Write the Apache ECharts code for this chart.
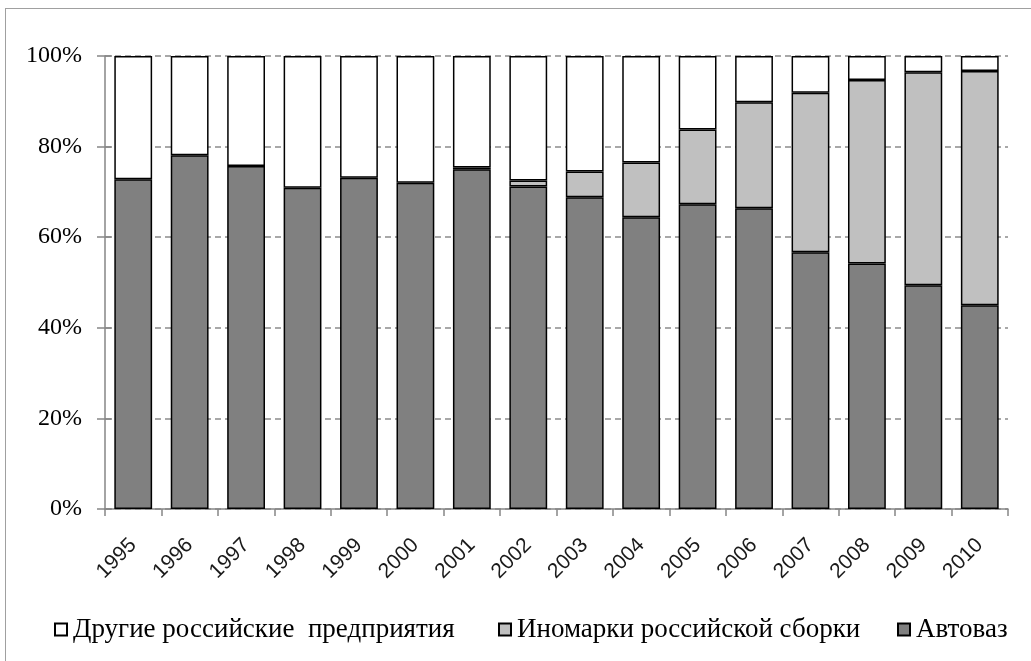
<!DOCTYPE html>
<html>
<head>
<meta charset="utf-8">
<script src="https://cdn.jsdelivr.net/npm/echarts@6/dist/echarts.min.js"></script>
<style>
html,body{margin:0;padding:0;background:#fff;overflow:hidden;}
#frame{position:absolute;left:5px;top:8px;width:1100px;height:700px;border-left:1.5px solid #a0a0a0;border-top:1.5px solid #a0a0a0;}
#chart{position:absolute;left:0;top:0;width:1031px;height:661px;}
</style>
</head>
<body>
<div id="frame"></div>
<div id="chart"></div>
<script>
var years = ['1995','1996','1997','1998','1999','2000','2001','2002','2003','2004','2005','2006','2007','2008','2009','2010'];
var avtovaz = [72.8, 78.1, 75.7, 70.9, 73.1, 72.0, 75.0, 71.2, 68.8, 64.4, 67.3, 66.4, 56.7, 54.2, 49.4, 45.0];
var inomarki = [null, null, null, null, null, null, 0.4, 1.3, 5.7, 12.1, 16.5, 23.4, 35.2, 40.5, 47.0, 51.7];
var drugie = [27.2, 21.9, 24.3, 29.1, 26.9, 28.0, 24.6, 27.5, 25.5, 23.5, 16.2, 10.2, 8.1, 5.3, 3.6, 3.3];
var seriesNames = ['Другие российские  предприятия', 'Иномарки российской сборки', 'Автоваз'];
var yTicks = [0, 20, 40, 60, 80, 100];

var SERIF = '"Liberation Serif", "Times New Roman", "DejaVu Serif", serif';
var chart = echarts.init(document.getElementById('chart'), null, {renderer: 'canvas'});
var barStyle = function (c) { return {color: c, borderColor: '#000', borderWidth: 1.5}; };
var legendLefts = [49, 493, 892];
var legends = seriesNames.map(function (n, i) {
  return {
    data: [n], left: legendLefts[i], top: 611,
    itemWidth: 12, itemHeight: 12, icon: 'rect',
    textStyle: {fontFamily: SERIF, fontSize: 27, color: '#000', padding: [0, 0, 0, 1]}
  };
});
chart.setOption({
  backgroundColor: 'transparent',
  animation: false,
  textStyle: {fontFamily: SERIF},
  grid: {left: 105, right: 23, top: 56, bottom: 152},
  legend: legends,
  xAxis: {
    type: 'category',
    data: years,
    axisLine: {lineStyle: {color: '#868686', width: 1.5}},
    axisTick: {show: true, length: 7, lineStyle: {color: '#868686', width: 1.5}},
    axisLabel: {rotate: 45, margin: 33, fontFamily: '"Liberation Sans", sans-serif', fontSize: 21, color: '#1a1a1a'}
  },
  yAxis: [{
    type: 'value', min: 0, max: 100, interval: 20,
    axisLine: {show: true, lineStyle: {color: '#868686', width: 1.5}},
    axisTick: {show: true, length: 8, lineStyle: {color: '#868686', width: 1.5}},
    axisLabel: {margin: 23, fontFamily: SERIF, fontSize: 24, color: '#000',
      formatter: function (v) { return yTicks.indexOf(v) >= 0 ? v + '%' : ''; }},
    splitLine: {show: true, lineStyle: {color: '#8c8c8c', type: [6, 4], width: 1.5}}
  }, {
    type: 'value', min: 0, max: 100, interval: 20, position: 'left', offset: 0,
    axisLine: {show: false},
    axisTick: {show: true, inside: true, length: 7, lineStyle: {color: '#868686', width: 1.5}},
    axisLabel: {show: false},
    splitLine: {show: false}
  }],
  series: [
    {name: seriesNames[2], type: 'bar', stack: 's', data: avtovaz, barWidth: '67%', itemStyle: barStyle('#808080')},
    {name: seriesNames[1], type: 'bar', stack: 's', data: inomarki, barWidth: '67%', itemStyle: barStyle('#c0c0c0')},
    {name: seriesNames[0], type: 'bar', stack: 's', data: drugie, barWidth: '67%', itemStyle: barStyle('#ffffff')}
  ]
});
</script>
</body>
</html>
